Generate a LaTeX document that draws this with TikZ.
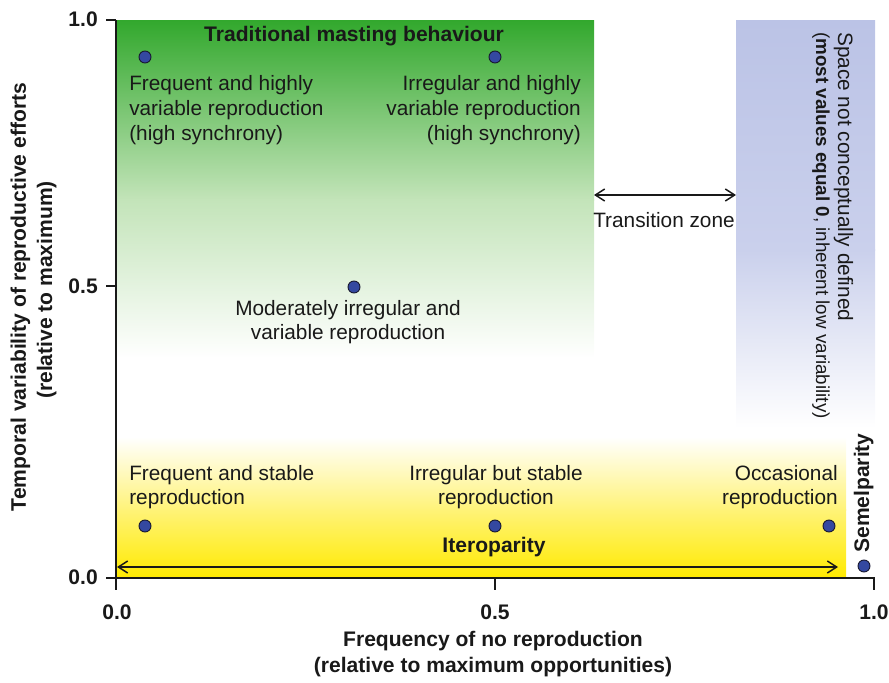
\documentclass[tikz,border=0pt]{standalone}
\usepackage{fontspec}
\setmainfont{Liberation Sans}
\usetikzlibrary{arrows.meta}
\definecolor{gTop}{RGB}{50,168,45}
\definecolor{gMid}{RGB}{195,228,185}
\definecolor{bTop}{RGB}{187,195,230}
\definecolor{bMid}{RGB}{202,208,236}
\definecolor{yMid}{RGB}{255,243,120}
\definecolor{yBot}{RGB}{255,234,0}
\definecolor{dotblue}{RGB}{52,72,160}
\definecolor{dotline}{RGB}{25,25,50}
\definecolor{txtc}{RGB}{25,25,25}
\begin{document}
\begin{tikzpicture}[x=0.75pt,y=-0.75pt,
  txt/.style={font=\fontsize{15.6}{18.75}\selectfont, inner sep=0, text=txtc},
  bld/.style={font=\fontsize{15.8}{19}\selectfont\bfseries, inner sep=0, text=txtc},
  dot/.style={circle, fill=dotblue, draw=dotline, line width=0.7pt, minimum size=9pt, inner sep=0},
  dbl/.style={{Straight Barb[length=7pt,width=9pt]}-{Straight Barb[length=7pt,width=9pt]}, line width=1.1pt, txtc},
  axis/.style={line width=1.6pt, txtc}]
\useasboundingbox (0,0) rectangle (889,682);
% background zones
\shade[top color=gTop, bottom color=gMid] (117,20) rectangle (594,200);
\shade[top color=gMid, bottom color=white] (117,199.5) rectangle (594,358);
\shade[top color=bTop, bottom color=bMid] (736,20) rectangle (875,250);
\shade[top color=bMid, bottom color=white] (736,249.5) rectangle (875,428);
\shade[top color=white, bottom color=yMid] (117,437) rectangle (846,510);
\shade[top color=yMid, bottom color=yBot] (117,509.5) rectangle (846,578);
% axes
\coordinate (ytop) at (116,20);
\coordinate (ybot) at (116,590);
\coordinate (xleft) at (106,578);
\coordinate (xright) at (874,578);
\coordinate (xrtick) at (874,590);
\coordinate (xmid) at (495,578);
\coordinate (xmidtick) at (495,590);
\coordinate (yt1a) at (106,20);
\coordinate (yt5a) at (106,286);
\coordinate (yt5b) at (116,286);
\draw[axis] (ytop) -- (ybot);
\draw[axis] (xleft) -- (xright) -- (xrtick);
\draw[axis] (xmid) -- (xmidtick);
\draw[axis] (yt1a) -- (ytop);
\draw[axis] (yt5a) -- (yt5b);
% tick labels
\node[bld, anchor=east] (ly1) at (98,19) {1.0};
\node[bld, anchor=east] (ly5) at (98,286) {0.5};
\node[bld, anchor=east] (ly0) at (98,577) {0.0};
\node[bld, anchor=north] (lx0) at (117,605) {0.0};
\node[bld, anchor=north] (lx5) at (495,605) {0.5};
\node[bld, anchor=north] (lx1) at (874,605) {1.0};
% axis titles
\node[bld, anchor=base] (xt1) at (493,646) {Frequency of no reproduction};
\node[bld, anchor=base] (xt2) at (493,672) {(relative to maximum opportunities)};
\node[bld, anchor=base, rotate=90] (yt1) at (26,297) {Temporal variability of reproductive efforts};
\node[bld, anchor=base, rotate=90] (yt2) at (52,290) {(relative to maximum)};
% zone labels
\node[bld, anchor=base] (trad) at (354,41) {Traditional masting behaviour};
\node[bld, anchor=base] (itero) at (494,552) {Iteroparity};
\node[bld, anchor=base west, rotate=90] (semel) at (869,553) {Semelparity};
\node[txt, anchor=base west, rotate=-90] (sp1) at (838,32) {Space not conceptually defined};
\node[txt, anchor=base west, rotate=-90, font=\fontsize{14.1}{17}\selectfont] (sp2) at (816,32) {(\textbf{most values equal 0}, inherent low variability)};
% transition zone
\coordinate (tzl) at (594,195);
\coordinate (tzr) at (736,195);
\draw[dbl] (tzl) -- (tzr);
\node[txt, anchor=base west] (tz) at (593,227) {Transition zone};
% iteroparity arrow
\coordinate (itl) at (117,567);
\coordinate (itr) at (838,567);
\draw[dbl] (itl) -- (itr);
% dots
\node[dot] (d1) at (145,57) {};
\node[dot] (d2) at (495,57) {};
\node[dot] (d3) at (354,287) {};
\node[dot] (d4) at (145,526) {};
\node[dot] (d5) at (495,526) {};
\node[dot] (d6) at (829,526) {};
\node[dot] (d7) at (864,566) {};
% point labels
\node[txt, anchor=base west] (a1) at (129,90) {Frequent and highly};
\node[txt, anchor=base west] (a2) at (129,115) {variable reproduction};
\node[txt, anchor=base west] (a3) at (129,140) {(high synchrony)};
\node[txt, anchor=base east] (b1) at (581,90) {Irregular and highly};
\node[txt, anchor=base east] (b2) at (581,115) {variable reproduction};
\node[txt, anchor=base east] (b3) at (581,140) {(high synchrony)};
\node[txt, anchor=base] (c1) at (348,315) {Moderately irregular and};
\node[txt, anchor=base] (c2) at (348,339) {variable reproduction};
\node[txt, anchor=base west] (e1) at (129,480) {Frequent and stable};
\node[txt, anchor=base west] (e2) at (129,504) {reproduction};
\node[txt, anchor=base] (f1) at (496,480) {Irregular but stable};
\node[txt, anchor=base] (f2) at (496,504) {reproduction};
\node[txt, anchor=base east] (g1) at (838,480) {Occasional};
\node[txt, anchor=base east] (g2) at (838,504) {reproduction};
\end{tikzpicture}
\end{document}
